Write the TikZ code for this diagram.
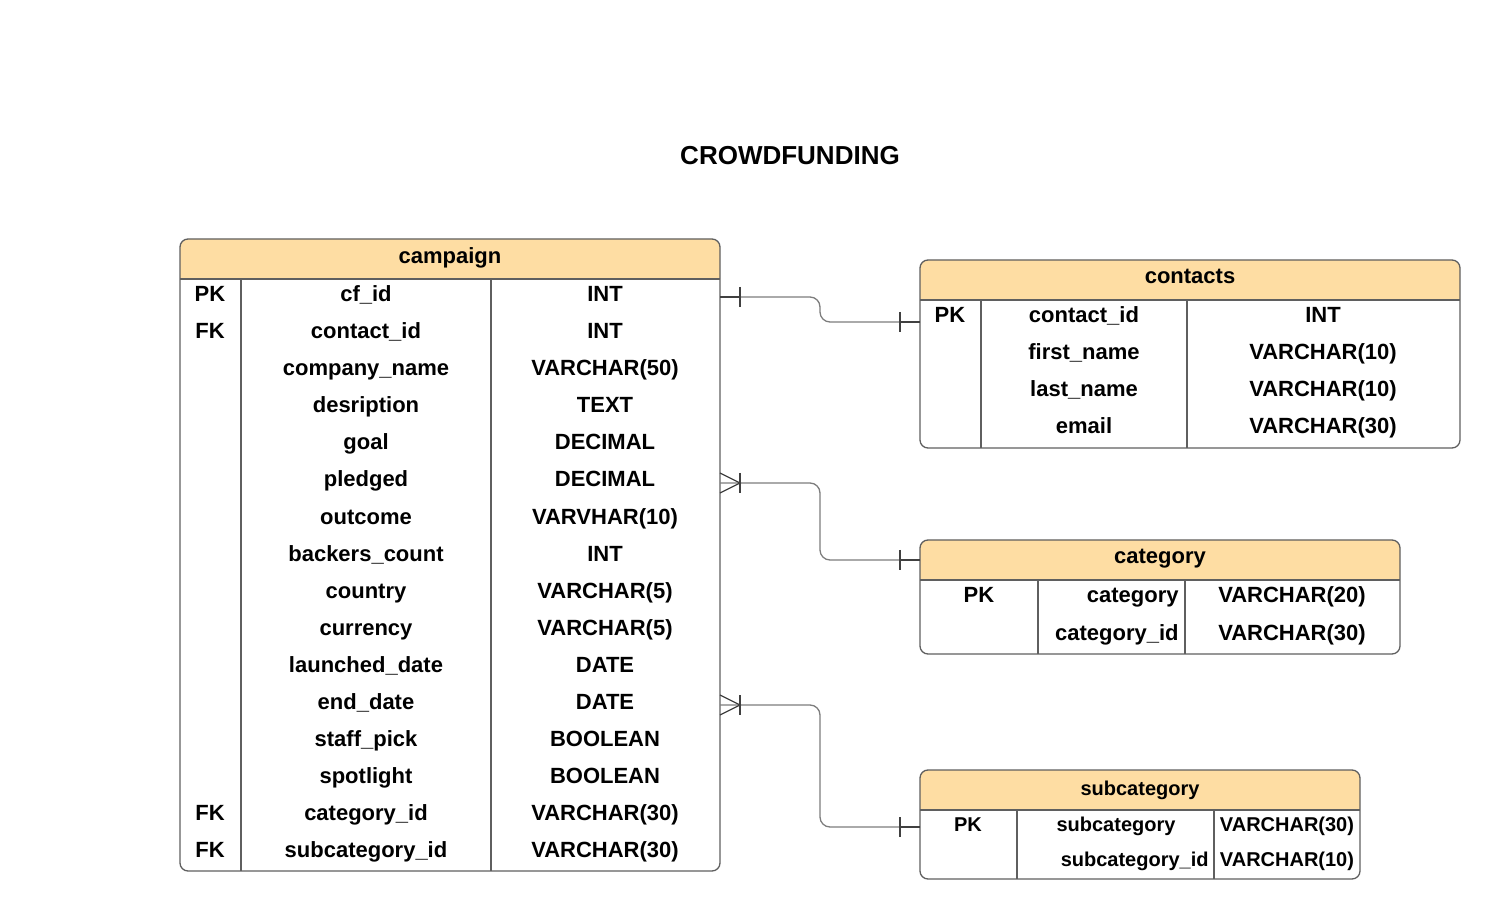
\documentclass[tikz,border=0pt]{standalone}
\usepackage{fontspec}
\setmainfont{Liberation Sans}
\definecolor{hdr}{RGB}{254,221,163}
\definecolor{bord}{RGB}{95,95,95}
\definecolor{connc}{RGB}{125,125,125}
\tikzset{
  tbl/.style={draw=bord, line width=0.65pt, rounded corners=4pt},
  sep/.style={draw=bord, line width=0.65pt},
  txt/.style={font=\fontsize{11}{13}\selectfont\bfseries, anchor=base, inner sep=0pt},
  txtr/.style={txt, anchor=base east},
  stxt/.style={font=\fontsize{10}{12}\selectfont\bfseries, anchor=base, inner sep=0pt},
  stxtr/.style={stxt, anchor=base east},
  ttl/.style={font=\fontsize{13}{15}\selectfont\bfseries, anchor=base, inner sep=0pt},
  connline/.style={draw=connc, line width=0.65pt, rounded corners=5pt},
  tickmark/.style={draw=black!75, line width=0.6pt},
}
\begin{document}
\begin{tikzpicture}[x=0.5pt,y=-0.5pt]
\useasboundingbox (0,0) rectangle (1500,919);

\node[ttl] (title) at (790,165) {CROWDFUNDING};

% ---------- campaign ----------
\fill[hdr, rounded corners=4pt] (180,279) -- (180,239) -- (720,239) -- (720,279);
\node[tbl, minimum width=270pt, minimum height=316pt, inner sep=0pt] (campaign) at (450,555) {};
\draw[sep] (180,279) -- (720,279);
\draw[sep] (241,279) -- (241,871);
\draw[sep] (491,279) -- (491,871);
\node[txt] (campaignh) at (450,264) {campaign};
\foreach \i/\k/\n/\t in {
  0/PK/cf\_id/INT,
  1/FK/contact\_id/INT,
  2//company\_name/VARCHAR(50),
  3//desription/TEXT,
  4//goal/DECIMAL,
  5//pledged/DECIMAL,
  6//outcome/VARVHAR(10),
  7//backers\_count/INT,
  8//country/VARCHAR(5),
  9//currency/VARCHAR(5),
  10//launched\_date/DATE,
  11//end\_date/DATE,
  12//staff\_pick/BOOLEAN,
  13//spotlight/BOOLEAN,
  14/FK/category\_id/VARCHAR(30),
  15/FK/subcategory\_id/VARCHAR(30)}{
  \node[txt] (cK\i) at (210,302+37*\i) {\k};
  \node[txt] (cN\i) at (366,302+37*\i) {\n};
  \node[txt] (cT\i) at (605,302+37*\i) {\t};
}

% ---------- contacts ----------
\fill[hdr, rounded corners=4pt] (920,300) -- (920,260) -- (1460,260) -- (1460,300);
\node[tbl, minimum width=270pt, minimum height=94pt, inner sep=0pt] (contacts) at (1190,354) {};
\draw[sep] (920,300) -- (1460,300);
\draw[sep] (981,300) -- (981,448);
\draw[sep] (1187,300) -- (1187,448);
\node[txt] (contactsh) at (1190,284) {contacts};
\foreach \i/\k/\n/\t in {
  0/PK/contact\_id/INT,
  1//first\_name/VARCHAR(10),
  2//last\_name/VARCHAR(10),
  3//email/VARCHAR(30)}{
  \node[txt] (kK\i) at (950,323+37*\i) {\k};
  \node[txt] (kN\i) at (1084,323+37*\i) {\n};
  \node[txt] (kT\i) at (1323,323+37*\i) {\t};
}

% ---------- category ----------
\fill[hdr, rounded corners=4pt] (920,580) -- (920,540) -- (1400,540) -- (1400,580);
\node[tbl, minimum width=240pt, minimum height=57pt, inner sep=0pt] (category) at (1160,597) {};
\draw[sep] (920,580) -- (1400,580);
\draw[sep] (1038,580) -- (1038,654);
\draw[sep] (1185,580) -- (1185,654);
\node[txt] (categoryh) at (1160,564) {category};
\node[txt] (gK0) at (979,603) {PK};
\node[txtr] (gN0) at (1179,603) {category};
\node[txt] (gT0) at (1292,603) {VARCHAR(20)};
\node[txtr] (gN1) at (1179,640) {category\_id};
\node[txt] (gT1) at (1292,640) {VARCHAR(30)};

% ---------- subcategory ----------
\fill[hdr, rounded corners=4pt] (920,810) -- (920,770) -- (1360,770) -- (1360,810);
\node[tbl, minimum width=220pt, minimum height=54.5pt, inner sep=0pt] (subcategory) at (1140,824.5) {};
\draw[sep] (920,810) -- (1360,810);
\draw[sep] (1017,810) -- (1017,879);
\draw[sep] (1214,810) -- (1214,879);
\node[stxt] (subcategoryh) at (1140,795) {subcategory};
\node[stxt] (sK0) at (968,831) {PK};
\node[stxt] (sN0) at (1116,831) {subcategory};
\node[stxt] (sT0) at (1287,831) {VARCHAR(30)};
\node[stxtr] (sN1) at (1209,866) {subcategory\_id};
\node[stxt] (sT1) at (1287,866) {VARCHAR(10)};

% ---------- connectors ----------
\coordinate (a1) at (720,297);
\coordinate (b1) at (920,322);
\coordinate (a2) at (720,483);
\coordinate (b2) at (920,560);
\coordinate (a3) at (720,705);
\coordinate (b3) at (920,827);

\draw[connline] (a1) -- (820,297) |- (b1);
\draw[connline] (a2) -- (820,483) |- (b2);
\draw[connline] (a3) -- (820,705) |- (b3);

% one marks
\draw[tickmark] ([xshift=10pt]a1) ++(0,-10) -- ++(0,20);
\draw[tickmark] ([xshift=-10pt]b1) ++(0,-10) -- ++(0,20);
\draw[tickmark] ([xshift=-10pt]b2) ++(0,-10) -- ++(0,20);
\draw[tickmark] ([xshift=-10pt]b3) ++(0,-10) -- ++(0,20);
\draw[tickmark] (a1) -- ([xshift=10pt]a1);
\draw[tickmark] (b1) -- ([xshift=-10pt]b1);
\draw[tickmark] (b2) -- ([xshift=-10pt]b2);
\draw[tickmark] (b3) -- ([xshift=-10pt]b3);

% many marks (crow's foot)
\draw[tickmark] ([yshift=5pt]a2) -- ([xshift=10pt]a2) -- ([yshift=-5pt]a2);
\draw[tickmark] ([xshift=10pt]a2) ++(0,-10) -- ++(0,20);
\draw[tickmark] ([yshift=5pt]a3) -- ([xshift=10pt]a3) -- ([yshift=-5pt]a3);
\draw[tickmark] ([xshift=10pt]a3) ++(0,-10) -- ++(0,20);
\end{tikzpicture}
\end{document}
